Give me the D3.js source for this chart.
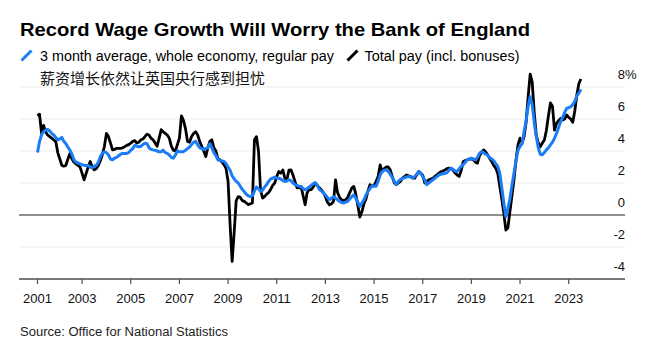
<!DOCTYPE html>
<html><head><meta charset="utf-8">
<script src="https://cdn.jsdelivr.net/npm/d3@7"></script>
<style>
html,body{margin:0;padding:0;background:#fff;}
svg{display:block;font-family:"Liberation Sans",Arial,sans-serif;}
</style></head><body>
<svg id="chart" width="661" height="355"></svg>
<script>
const title = "Record Wage Growth Will Worry the Bank of England";
const seriesNames = ["3 month average, whole economy, regular pay", "Total pay (incl. bonuses)"];
const subtitle = "薪资增长依然让英国央行感到担忧";
const sourceText = "Source: Office for National Statistics";

// monthly, first value = Feb 2001, last = Jun 2023 (year-on-year %, 3m avg)
const startYear = 2001, startMonth = 2;
const regularPay = [
  3.9, 4.6, 5.0, 5.2, 5.3, 5.35, 5.25, 5.1, 5.0, 4.85, 4.7,
  4.75, 4.85, 4.6, 4.45, 4.25, 4.05, 3.8, 3.45, 3.3, 3.25, 3.2, 3.15,
  3.1, 3.1, 3.1, 3.0, 2.95, 3.05, 3.1, 3.3, 3.65, 3.85, 3.95, 3.9,
  3.75, 3.5, 3.45, 3.55, 3.6, 3.7, 3.8, 3.85, 3.85, 3.85, 3.9, 4.05,
  4.15, 4.35, 4.3, 4.27, 4.3, 4.4, 4.48, 4.45, 4.2, 4.1, 4.07, 4.05,
  4.0, 3.95, 3.95, 4.05, 3.9, 3.85, 3.75, 3.6, 3.55, 3.75, 4.0, 3.96,
  3.95, 3.96, 4.05, 4.15, 4.25, 4.4, 4.55, 4.6, 4.4, 4.2, 4.15, 4.1,
  4.15, 4.2, 4.45, 4.2, 3.9, 3.7, 3.45, 3.4, 3.38, 3.35, 3.2, 3.0,
  2.8, 2.45, 2.25, 2.1, 2.0, 1.8, 1.6, 1.45, 1.3, 1.2, 1.15, 1.2,
  1.5, 1.75, 1.65, 1.47, 1.55, 1.75, 1.9, 2.1, 2.25, 2.3, 2.37, 2.3,
  2.3, 2.24, 2.15, 2.1, 2.12, 2.2, 2.15, 2.0, 1.9, 1.85, 1.8, 1.78,
  1.65, 1.58, 1.65, 1.75, 1.85, 1.95, 2.02, 1.85, 1.6, 1.5, 1.38, 1.26,
  1.1, 0.95, 1.05, 1.15, 1.05, 0.95, 0.85, 0.78, 0.75, 0.8, 0.85, 1.0,
  1.15, 1.26, 1.05, 0.8, 0.54, 0.75, 0.95, 1.25, 1.47, 1.65, 1.83, 1.8,
  1.8, 2.1, 2.5, 2.72, 2.8, 2.82, 2.72, 2.55, 2.35, 2.1, 1.89, 2.1,
  2.22, 2.28, 2.32, 2.38, 2.41, 2.38, 2.3, 2.4, 2.55, 2.7, 2.65, 2.4,
  2.2, 1.9, 2.0, 2.1, 2.2, 2.3, 2.4, 2.5, 2.55, 2.58, 2.6, 2.65,
  2.8, 2.93, 2.85, 2.75, 2.72, 2.9, 3.05, 3.15, 3.3, 3.45, 3.5, 3.55,
  3.5, 3.45, 3.6, 3.85, 3.96, 3.9, 3.8, 3.75, 3.6, 3.5, 3.4, 3.2,
  3.05, 2.62, 1.7, 0.75, -0.1, 0.4, 1.0, 1.85, 2.6, 3.4, 4.05, 4.3,
  4.45, 5.2, 5.9, 6.8, 7.4, 6.9, 5.8, 4.9, 4.2, 3.8, 3.76, 3.9,
  4.07, 4.2, 4.38, 4.55, 4.8, 5.1, 5.45, 5.83, 6.1, 6.4, 6.67, 6.7,
  6.77, 6.9, 7.1, 7.45, 7.6, 7.85
];
const totalPay = [
  6.2, 6.3, 5.1, 5.6, 5.2, 5.0, 4.9, 4.8, 4.7, 4.6, 3.9,
  3.5, 3.1, 3.05, 3.1, 3.5, 3.85, 3.5, 3.3, 3.2, 3.1, 3.0, 2.6,
  2.2, 2.6, 3.0, 3.34, 3.0, 2.82, 2.9, 3.1, 3.4, 3.76, 4.3, 5.1,
  4.9, 4.5, 4.07, 4.1, 4.17, 4.17, 4.17, 4.2, 4.27, 4.35, 4.4, 4.49,
  4.6, 4.65, 4.5, 4.55, 4.7, 4.75, 4.9, 5.05, 5.0, 4.8, 4.7, 4.5,
  4.3, 4.8, 5.33, 5.2, 5.1, 5.0, 4.8, 4.3, 4.05, 4.0, 4.4, 4.8,
  6.2, 5.9, 5.4, 4.6, 4.55, 4.9, 5.1, 5.2, 5.0, 4.6, 4.3, 4.0,
  3.65, 4.2, 4.6, 4.7, 4.2, 4.0, 3.5, 3.45, 3.3, 3.15, 2.9, 2.1,
  -0.6, -2.9, -1.1, 0.9, 1.15, 1.1, 0.9, 0.85, 0.75, 0.65, 0.7, 0.75,
  4.7, 4.9, 4.0, 1.58, 1.06, 1.15, 1.3, 1.4, 1.6, 1.85, 2.0, 2.4,
  2.72, 2.62, 2.82, 2.3, 2.2, 2.8, 2.82, 2.5, 2.1, 1.7, 1.7, 1.79,
  1.2, 0.64, 1.4, 1.58, 1.58, 1.75, 2.0, 1.85, 1.7, 1.58, 1.4, 1.16,
  0.8, 0.64, 0.7, 0.85, 2.2, 1.4, 1.1, 0.95, 0.9, 0.95, 1.1, 1.4,
  1.68, 1.79, 1.3, 0.6, -0.13, 0.2, 0.7, 1.0, 1.5, 1.89, 1.8, 1.85,
  2.1, 2.41, 3.13, 2.7, 2.9, 3.0, 3.0, 2.82, 2.4, 2.0, 1.9, 2.0,
  2.1, 2.3, 2.4, 2.5, 2.45, 2.41, 2.35, 2.3, 2.5, 2.72, 2.6, 2.5,
  2.0, 2.1, 2.2, 2.25, 2.3, 2.41, 2.5, 2.62, 2.7, 2.75, 2.82, 2.9,
  2.93, 2.9, 2.8, 2.62, 2.5, 2.41, 2.8, 3.34, 3.4, 3.45, 3.5, 3.5,
  3.45, 3.3, 3.24, 3.7, 3.9, 4.07, 3.95, 3.76, 3.55, 3.34, 3.1, 2.93,
  2.6, 1.8, 1.0, 0.1, -0.95, -0.8, 0.2, 1.2, 2.2, 3.4, 4.4, 4.8,
  4.5, 4.9, 5.8, 7.4, 8.8, 8.3, 6.4, 5.0, 4.5, 4.27, 4.5, 4.69,
  5.3, 6.2, 7.0, 6.8, 5.31, 5.73, 5.9, 6.04, 5.94, 6.0, 6.25, 6.1,
  6.0, 5.8, 6.5, 7.5, 8.2, 8.5
];
const yTicks = [-4, -2, 0, 2, 4, 6, 8];
const xTickYears = [2001, 2003, 2005, 2007, 2009, 2011, 2013, 2015, 2017, 2019, 2021, 2023];
const colors = {regular: "#1a7cf6", total: "#000000"};

const svg = d3.select("#chart");
const plotLeft = 19, plotRight = 625;
const x = d3.scaleLinear().domain([2003, 2023]).range([82.1, 568.7]);
const y = d3.scaleLinear().domain([-4, 8]).range([279, 87]);
const dateOf = i => startYear + (startMonth + i) / 12;

// gridlines
svg.append("g").selectAll("line").data(yTicks.filter(v => v > 0 || (v < 0 && v > -4))).join("line")
  .attr("x1", plotLeft).attr("x2", plotRight)
  .attr("y1", d => y(d)).attr("y2", d => y(d))
  .attr("stroke", "#ececec").attr("stroke-width", 1.2);
// zero line
svg.append("line").attr("x1", plotLeft).attr("x2", plotRight)
  .attr("y1", y(0)).attr("y2", y(0)).attr("stroke", "#6a6a6a").attr("stroke-width", 1.3);
// bottom axis
const yBottom = y(-4);
svg.append("line").attr("x1", plotLeft).attr("x2", plotRight)
  .attr("y1", yBottom).attr("y2", yBottom).attr("stroke", "#4d4d4d").attr("stroke-width", 1.5);

// y labels
const yl = svg.append("g").attr("font-size", 13).attr("fill", "#111");
yl.selectAll("text.num").data(yTicks).join("text").attr("class", "num")
  .attr("x", plotRight).attr("y", d => y(d) - 8.5).attr("text-anchor", "end")
  .text(d => d);
yl.append("text").attr("x", plotRight).attr("y", y(d3.max(yTicks)) - 8.5).text("%");

// x ticks
const firstX = x(dateOf(0));
const xt = svg.append("g");
xt.selectAll("line").data(xTickYears).join("line")
  .attr("x1", d => Math.max(x(d), firstX)).attr("x2", d => Math.max(x(d), firstX))
  .attr("y1", yBottom).attr("y2", yBottom + 5).attr("stroke", "#4d4d4d").attr("stroke-width", 1.2);
xt.selectAll("text").data(xTickYears).join("text")
  .attr("x", d => Math.max(x(d), firstX)).attr("y", 302.5)
  .attr("text-anchor", "middle").attr("font-size", 13).attr("fill", "#111").text(d => d);

// lines
const line = d3.line().x(d => x(d.t)).y(d => y(d.v));
const totalData = totalPay.map((v, i) => ({t: dateOf(i), v}));
const regData = regularPay.map((v, i) => ({t: dateOf(i), v}));
svg.append("path").datum(totalData).attr("d", line).attr("fill", "none")
  .attr("stroke", colors.total).attr("stroke-width", 2.8).attr("stroke-linejoin", "round");
svg.append("path").datum(regData).attr("d", line).attr("fill", "none")
  .attr("stroke", colors.regular).attr("stroke-width", 3).attr("stroke-linejoin", "round");

// title
svg.append("text").attr("x", 20).attr("y", 36).attr("font-size", 18.5).attr("font-weight", "bold")
  .attr("fill", "#000").attr("textLength", 510).attr("lengthAdjust", "spacingAndGlyphs").text(title);

// legend
svg.append("line").attr("x1", 21.5).attr("y1", 60.5).attr("x2", 31.5).attr("y2", 50.5)
  .attr("stroke", colors.regular).attr("stroke-width", 3);
svg.append("text").attr("x", 40).attr("y", 60.5).attr("font-size", 14).attr("fill", "#000")
  .attr("textLength", 294).attr("lengthAdjust", "spacingAndGlyphs").text(seriesNames[0]);
svg.append("line").attr("x1", 347.5).attr("y1", 60.5).attr("x2", 357.5).attr("y2", 50.5)
  .attr("stroke", colors.total).attr("stroke-width", 3);
svg.append("text").attr("x", 364.5).attr("y", 60.5).attr("font-size", 14).attr("fill", "#000")
  .attr("textLength", 155).attr("lengthAdjust", "spacingAndGlyphs").text(seriesNames[1]);

// subtitle
svg.append("text").attr("x", 40).attr("y", 84).attr("font-size", 15)
  .attr("font-family", "'Noto Sans CJK SC', sans-serif").attr("fill", "#111").text(subtitle);

// source
svg.append("text").attr("x", 20).attr("y", 336).attr("font-size", 12).attr("fill", "#222")
  .attr("textLength", 208).attr("lengthAdjust", "spacingAndGlyphs").text(sourceText);
</script>
</body></html>
